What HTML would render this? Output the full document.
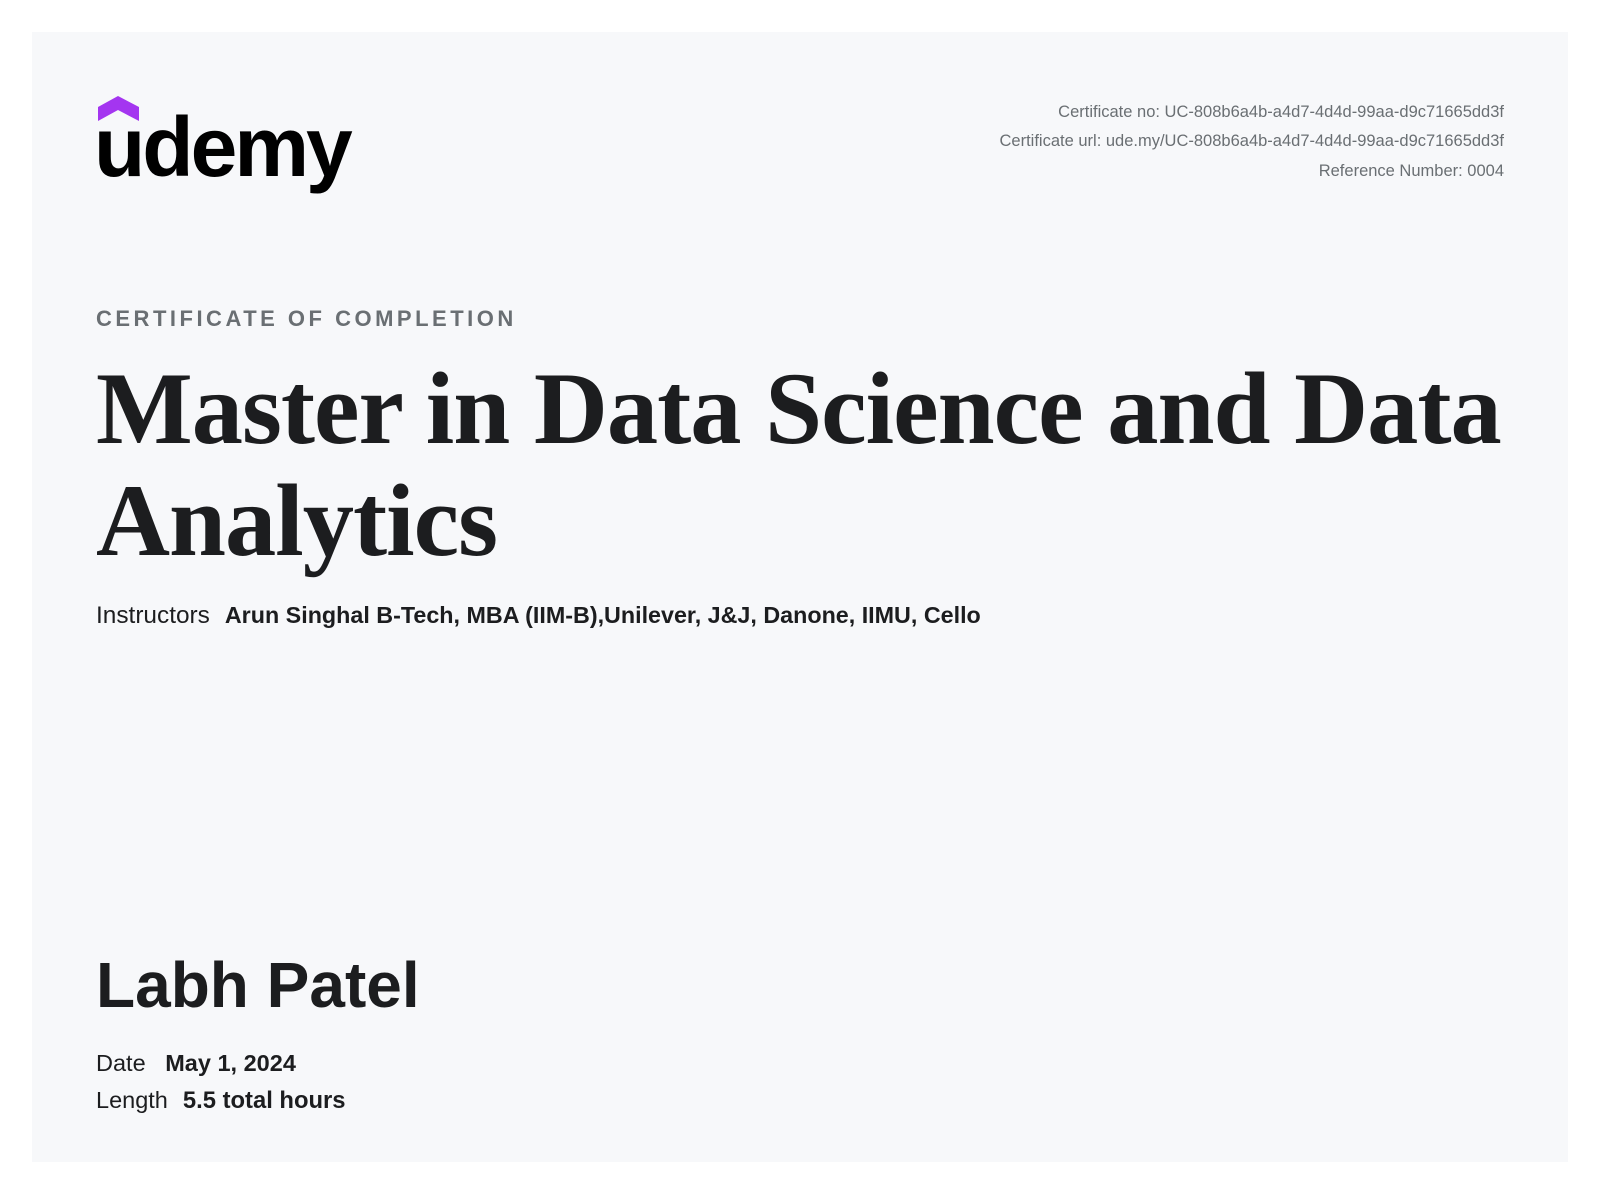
<!DOCTYPE html>
<html><head><meta charset="utf-8"><style>
html,body{margin:0;padding:0;background:#fff;width:1600px;height:1190px;overflow:hidden}
.card{position:absolute;left:32px;top:32px;width:1536px;height:1130px;background:#f7f8fa}
.abs{position:absolute;white-space:nowrap}
.sans{font-family:"Liberation Sans",sans-serif}
.meta{right:96px;font-size:16.5px;color:#6a6f73;text-align:right}
</style></head><body>
<div class="card"></div>
<svg class="abs" style="left:0;top:0" width="400" height="210">
<polygon points="98,107 118,96 139,107 139,121 118,110 98,121" fill="#a435f0"/>
<text x="94" y="176" font-family="Liberation Sans, sans-serif" font-weight="bold" font-size="84" fill="#000" letter-spacing="-3">udemy</text>
</svg>
<div class="abs sans meta" style="top:103px">Certificate no: UC-808b6a4b-a4d7-4d4d-99aa-d9c71665dd3f</div>
<div class="abs sans meta" style="top:132px">Certificate url: ude.my/UC-808b6a4b-a4d7-4d4d-99aa-d9c71665dd3f</div>
<div class="abs sans meta" style="top:162px">Reference Number: 0004</div>
<div class="abs sans" style="left:96px;top:306px;font-size:22px;font-weight:bold;letter-spacing:3.5px;color:#6a6f73">CERTIFICATE OF COMPLETION</div>
<div class="abs" style="left:96px;top:354px;font-family:'Liberation Serif',serif;font-weight:bold;font-size:102.5px;line-height:112px;color:#1c1d1f;white-space:normal;width:1440px;letter-spacing:-1px">Master in Data Science and Data Analytics</div>
<div class="abs sans" style="left:96px;top:602px;font-size:24.4px;color:#1c1d1f">Instructors<b style="font-size:23.3px;margin-left:15px">Arun Singhal B-Tech, MBA (IIM-B),Unilever, J&amp;J, Danone, IIMU, Cello</b></div>
<div class="abs sans" style="left:96px;top:948px;font-size:64px;font-weight:bold;color:#1c1d1f">Labh Patel</div>
<div class="abs sans" style="left:96px;top:1050px;font-size:23.5px;color:#1c1d1f">Date&nbsp;&nbsp;&nbsp;<b>May 1, 2024</b></div>
<div class="abs sans" style="left:96px;top:1087px;font-size:23.5px;color:#1c1d1f">Length<b style="margin-left:15px;font-size:23.8px">5.5 total hours</b></div>
</body></html>
